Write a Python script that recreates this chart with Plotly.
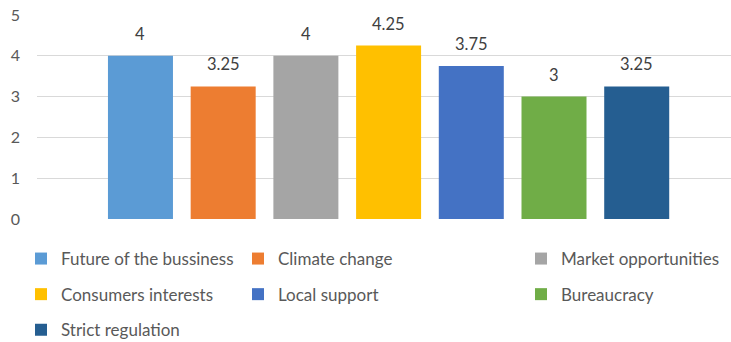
import plotly.graph_objects as go

categories = ["Future of the bussiness", "Climate change", "Market opportunities",
              "Consumers interests", "Local support", "Bureaucracy", "Strict regulation"]
values = [4, 3.25, 4, 4.25, 3.75, 3, 3.25]
labels = ["4", "3.25", "4", "4.25", "3.75", "3", "3.25"]
colors = ["#5B9BD5", "#ED7D31", "#A5A5A5", "#FFC000", "#4472C4", "#70AD47", "#255E91"]
y_ticks = [0, 1, 2, 3, 4, 5]

FONT = "Lato"
legend_ids = ["legend", "legend2", "legend3"]

fig = go.Figure()
for i, (c, v, col) in enumerate(zip(categories, values, colors)):
    fig.add_trace(go.Bar(
        x=[c], y=[v], name=c, marker=dict(color=col, line=dict(width=0)),
        legend=legend_ids[i % 3], legendgroup=c, showlegend=True,
        hoverinfo="skip",
    ))
    fig.add_annotation(x=c, y=v, text=labels[i], showarrow=False,
                       yanchor="bottom", yshift=10,
                       font=dict(family=FONT, size=16.5, color="#404040"))

W, H = 731, 342
L, R, T, B = 37, 0, 15, 123
pw = W - L - R
ph = H - T - B

def lx(px):
    return (px - L) / pw

def ly(py):
    return (H - B - py) / ph

legend_common = dict(orientation="v", xanchor="left", yanchor="top",
                     bgcolor="rgba(0,0,0,0)", borderwidth=0,
                     font=dict(family=FONT, size=17, color="#595959"),
                     tracegroupgap=10.5, itemclick=False, itemdoubleclick=False)

fig.update_layout(
    width=W, height=H,
    margin=dict(l=L, r=R, t=T, b=B, pad=0, autoexpand=False),
    paper_bgcolor="white", plot_bgcolor="white",
    barmode="overlay", bargap=0.214,
    font=dict(family=FONT, color="#595959"),
    showlegend=True,
    legend=dict(x=lx(21), y=ly(241), **legend_common),
    legend2=dict(x=lx(238), y=ly(241), **legend_common),
    legend3=dict(x=lx(521), y=ly(241), **legend_common),
    xaxis=dict(type="category", categoryorder="array", categoryarray=categories,
               range=[-1.251, 7.14], showticklabels=False, showgrid=False,
               zeroline=False, showline=False, ticks=""),
    yaxis=dict(range=[0, 5], tickvals=y_ticks, ticktext=[str(t) for t in y_ticks],
               showgrid=True, gridcolor="#D9D9D9", gridwidth=1,
               zeroline=False, showline=False, ticks="", ticklabelstandoff=16,
               tickfont=dict(family=FONT, size=16, color="#595959")),
)

fig.write_html("out.html")
